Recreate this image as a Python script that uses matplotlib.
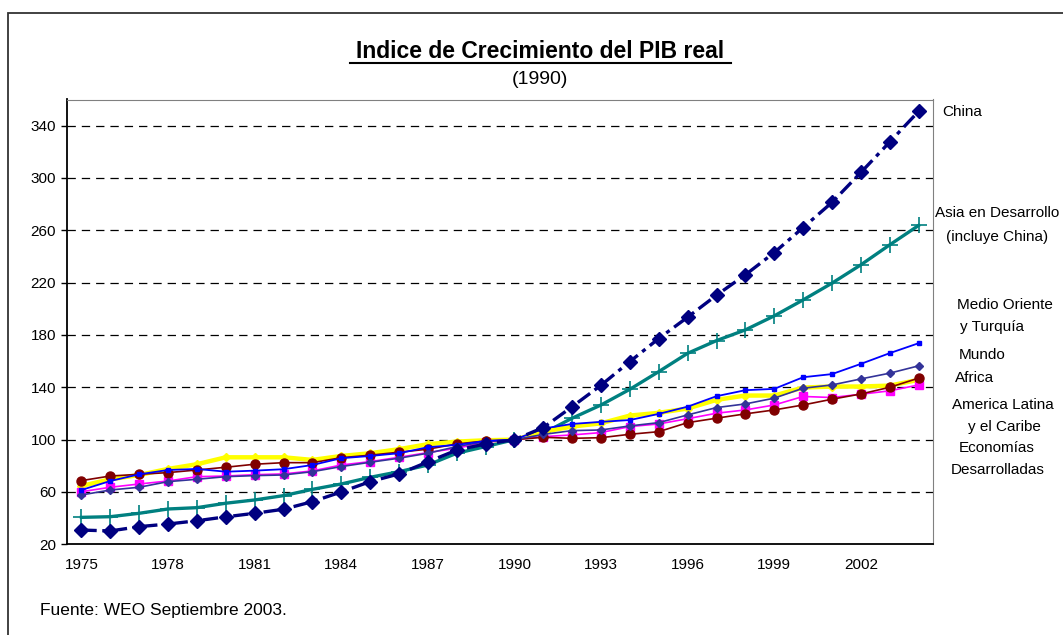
import matplotlib.pyplot as plt
from matplotlib.patches import Rectangle
import numpy as np

plt.rcParams['font.family'] = ['Liberation Sans', 'DejaVu Sans']
plt.rcParams['lines.scale_dashes'] = False

years = list(range(1975, 2005))

china = [30.9, 30.2, 33.5, 35.5, 38, 41, 43.7, 46.8, 52.6, 60, 67.9, 73.8, 83,
         92, 96.7, 100, 109.2, 125.2, 141.6, 159.7, 177.3, 193.6, 210.4, 226,
         243, 262.1, 281.3, 304.2, 327.5, 350.9]
asia = [40.6, 41.1, 43.7, 47, 48, 51.4, 53.9, 57.2, 62, 66.1, 71.2, 75.5, 80.6,
        89.6, 94.7, 100, 104.9, 116.4, 126.5, 138.5, 152, 166, 175.7, 183.9,
        194.6, 206.8, 219.6, 233.6, 248.9, 263.7]
medio_oriente = [61.5, 68.4, 73.5, 76.8, 77.6, 75.5, 76.3, 77.4, 80.6, 85.8,
                 87.5, 89.6, 94.2, 96, 99, 100, 108.5, 112, 113.6, 115,
                 119.7, 125.2, 133.2, 137.8, 138.8, 147.7, 150.1, 157.9,
                 166.1, 173.7]
mundo = [57.7, 61.5, 63.6, 67.9, 69.7, 71.7, 72.5, 73, 75.5, 79.4, 82.7, 85.8,
         89.6, 94.7, 98.5, 100, 104, 106.9, 107.4, 110.5, 113, 118.9, 124.5,
         127.3, 131.7, 139.3, 141.8, 146.4, 150.8, 156.4]
africa = [64.6, 69.7, 73, 77.6, 81.2, 86.5, 86.5, 86.5, 84.5, 87.5, 89.6, 92.7,
          96.5, 98.5, 99.5, 100, 106, 110, 112.5, 118.4, 120.5, 123.8, 130.4,
          133.7, 133.7, 139.8, 140.6, 140.6, 141.3, 145.7]
america_latina = [68.7, 72.2, 73.5, 74.8, 76.8, 78.9, 81.2, 82.4, 82.4, 86.2,
                  88.1, 90.4, 92.7, 96.7, 99, 100, 101.8, 101, 101.5, 104.1,
                  106.1, 113, 116.4, 119.7, 122.7, 126.5, 130.9, 134.9, 140,
                  147]
desarrolladas = [60.2, 63.6, 66.1, 68.4, 71.7, 72.2, 73.2, 73.8, 76.1, 80.6,
                 83.2, 86.5, 90.1, 93.4, 98, 100, 102.3, 103.6, 105.4, 110,
                 112, 116, 120.2, 122.7, 126.5, 133, 132.2, 134.7, 137.3,
                 141.8]

yticks = [20, 60, 100, 140, 180, 220, 260, 300, 340]
xlabels = [str(y) if (y - 1975) % 3 == 0 else '' for y in years]

W, H = 1063, 635
fig = plt.figure(figsize=(W / 100, H / 100), dpi=100)
ax = fig.add_axes([67 / W, 1 - 544.3 / H, (933 - 67) / W, (544.3 - 99.5) / H])

x = np.arange(len(years))

for v in yticks[1:]:
    ax.axhline(v, color='black', lw=0.9, dashes=(6, 4.3), zorder=1)

ax.plot(x, asia, color='#008080', lw=2.4, marker='+', ms=12, mew=1.2, zorder=3)
ax.plot(x, africa, color='#FFFF00', lw=3.2, marker='D', ms=4.5, zorder=3)
ax.plot(x, desarrolladas, color='#FF00FF', lw=1.2, marker='s', ms=5.5, zorder=4)
ax.plot(x, america_latina, color='#800000', lw=1.2, marker='o', ms=6.5, zorder=4)
ax.plot(x, mundo, color='#333399', lw=1.2, marker='D', ms=4, zorder=4)
ax.plot(x, medio_oriente, color='#0000FF', lw=1.3, marker='s', ms=2.8, zorder=5)
ax.plot(x, china, color='#000080', lw=2.4, dashes=(11, 4, 3, 4), marker='D',
        ms=7.6, zorder=6)

ax.set_xlim(-0.5, len(years) - 0.5)
ax.set_ylim(20, 360)
ax.set_yticks(yticks)
ax.set_xticks(x)
ax.set_xticklabels(xlabels, fontsize=11)
ax.tick_params(axis='x', length=0, pad=10)
ax.tick_params(axis='y', length=4, width=1, pad=4, labelsize=11)
for s in ['top', 'right']:
    ax.spines[s].set_color('#808080')
    ax.spines[s].set_linewidth(0.8)
for s in ['left', 'bottom']:
    ax.spines[s].set_color('black')
    ax.spines[s].set_linewidth(1.3)

fig.text(540 / W, 1 - 52 / H, 'Indice de Crecimiento del PIB real', ha='center',
         va='center', fontsize=16.5, fontweight='bold')
fig.add_artist(plt.Line2D([350 / W, 731 / W], [1 - 63 / H, 1 - 63 / H],
                          color='black', lw=1.5))
fig.text(540 / W, 1 - 79 / H, '(1990)', ha='center', va='center', fontsize=14)

labels = [
    ('China', 942, 111.7, 'left'),
    ('Asia en Desarrollo', 997, 213, 'center'),
    ('(incluye China)', 997, 236.5, 'center'),
    ('Medio Oriente', 1005, 305, 'center'),
    ('y Turquía', 960, 327, 'left'),
    ('Mundo', 959, 355, 'left'),
    ('Africa', 955, 378, 'left'),
    ('America Latina', 952, 405, 'left'),
    ('y el Caribe', 968, 427, 'left'),
    ('Economías', 959, 448, 'left'),
    ('Desarrolladas', 951, 470, 'left'),
]
for t, px, py, ha in labels:
    fig.text(px / W, 1 - py / H, t, ha=ha, va='center', fontsize=11)

fig.text(40 / W, 1 - 610 / H, 'Fuente: WEO Septiembre 2003.', ha='left',
         va='center', fontsize=12.5)

fig.add_artist(Rectangle((8 / W, -0.05), 1.1, 1 - 13 / H + 0.05,
                         transform=fig.transFigure, fill=False,
                         edgecolor='#333333', lw=1.3))

fig.savefig('out.png', dpi=100)
